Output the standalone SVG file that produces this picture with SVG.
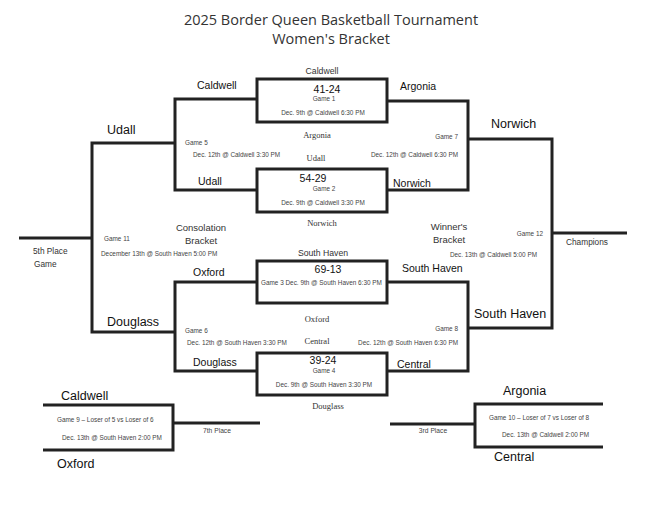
<svg xmlns="http://www.w3.org/2000/svg" width="662" height="512" viewBox="0 0 662 512">
<style>
.ln{fill:none;stroke:#222;stroke-width:3;stroke-linejoin:miter;stroke-linecap:butt}
.box{fill:#fff;stroke:#222;stroke-width:3}
.title{font-family:"Open Sans","Liberation Sans",sans-serif;font-size:14.5px;fill:#333;text-anchor:middle}
.team{font-family:"Liberation Sans",Arial,sans-serif;font-size:10.5px;fill:#111}
.big{font-family:"Liberation Sans",Arial,sans-serif;font-size:12.5px;fill:#111}
.score{font-family:"Liberation Sans",Arial,sans-serif;font-size:10.5px;fill:#111;text-anchor:middle}
.sm{font-family:"Liberation Sans",Arial,sans-serif;font-size:6.4px;fill:#444}
.smc{font-family:"Liberation Sans",Arial,sans-serif;font-size:6.4px;fill:#444;text-anchor:middle}
.host{font-family:"Liberation Sans",Arial,sans-serif;font-size:8.7px;fill:#333;text-anchor:middle}
.ser{font-family:"Liberation Serif","Times New Roman",serif;font-size:8.5px;fill:#333;text-anchor:middle}
.lab{font-family:"Liberation Sans",Arial,sans-serif;font-size:9.5px;fill:#333;text-anchor:middle}
.lab2{font-family:"Liberation Sans",Arial,sans-serif;font-size:8.3px;fill:#333}
.pl{font-family:"Liberation Sans",Arial,sans-serif;font-size:6.7px;fill:#444;text-anchor:middle}
</style>
<rect width="662" height="512" fill="#fff"/>
<g id="title">
<text class="title" x="331" y="25">2025 Border Queen Basketball Tournament</text>
<text class="title" x="331" y="44">Women's Bracket</text>
</g>
<g id="connectors">
<!-- Game 5 -->
<polyline class="ln" points="257,99 175,99 175,190 257,190"/>
<!-- Game 7 -->
<polyline class="ln" points="387,101 468,101 468,190 387,190"/>
<!-- Game 6 -->
<polyline class="ln" points="257,282 175,282 175,371 257,371"/>
<!-- Game 8 -->
<polyline class="ln" points="387,282 468,282 468,371 387,371"/>
<!-- Game 11 -->
<polyline class="ln" points="175,143 92,143 92,332 175,332"/>
<line class="ln" x1="19" y1="238" x2="92" y2="238"/>
<!-- Game 12 -->
<polyline class="ln" points="468,139 552,139 552,328 468,328"/>
<line class="ln" x1="552" y1="233" x2="627" y2="233"/>
<!-- Game 9 -->
<polyline class="ln" points="43,405 173,405 173,450 43,450"/>
<line class="ln" x1="173" y1="423" x2="260" y2="423"/>
<!-- Game 10 -->
<polyline class="ln" points="603,404 475,404 475,447 603,447"/>
<line class="ln" x1="390" y1="424" x2="475" y2="424"/>
</g>
<g id="game1">
<rect class="box" x="257" y="79" width="130" height="43"/>
<text class="host" x="322" y="74">Caldwell</text>
<text class="score" x="327" y="93">41-24</text>
<text class="smc" x="324" y="101">Game 1</text>
<text class="smc" x="323" y="115">Dec. 9th @ Caldwell 6:30 PM</text>
<text class="team" x="197" y="89">Caldwell</text>
<text class="team" x="400" y="90">Argonia</text>
</g>
<g id="game2">
<rect class="box" x="257" y="169" width="130" height="43"/>
<text class="ser" x="316" y="161">Udall</text>
<text class="score" x="313" y="182">54-29</text>
<text class="smc" x="324" y="191">Game 2</text>
<text class="smc" x="323" y="205">Dec. 9th @ Caldwell 3:30 PM</text>
<text class="team" x="198" y="185">Udall</text>
<text class="team" x="393" y="187">Norwich</text>
<text class="ser" x="322" y="226">Norwich</text>
</g>
<g id="game3">
<rect class="box" x="257" y="261" width="130" height="42"/>
<text class="host" x="323" y="256">South Haven</text>
<text class="score" x="328" y="273">69-13</text>
<text class="sm" x="261" y="285">Game 3 Dec. 9th @ South Haven 6:30 PM</text>
<text class="team" x="193" y="276">Oxford</text>
<text class="team" x="402" y="272">South Haven</text>
</g>
<g id="game4">
<rect class="box" x="257" y="353" width="130" height="42"/>
<text class="score" x="323" y="364">39-24</text>
<text class="smc" x="324" y="373">Game 4</text>
<text class="smc" x="324" y="387">Dec. 9th @ South Haven 3:30 PM</text>
<text class="team" x="193" y="366">Douglass</text>
<text class="team" x="397" y="368">Central</text>
<text class="ser" x="328" y="409">Douglass</text>
</g>
<g id="game5">
<text class="ser" x="317" y="138">Argonia</text>
<text class="sm" x="185" y="145">Game 5</text>
<text class="sm" x="193" y="157">Dec. 12th @ Caldwell 3:30 PM</text>
<text class="big" x="107" y="134">Udall</text>
</g>
<g id="game7">
<text class="sm" x="458" y="139" text-anchor="end">Game 7</text>
<text class="sm" x="458" y="157" text-anchor="end">Dec. 12th @ Caldwell 6:30 PM</text>
<text class="big" x="491" y="128">Norwich</text>
</g>
<g id="game6">
<text class="ser" x="317" y="322">Oxford</text>
<text class="ser" x="317" y="344">Central</text>
<text class="sm" x="185" y="333">Game 6</text>
<text class="sm" x="187" y="345">Dec. 12th @ South Haven 3:30 PM</text>
<text class="big" x="107" y="326">Douglass</text>
</g>
<g id="game8">
<text class="sm" x="458" y="331" text-anchor="end">Game 8</text>
<text class="sm" x="458" y="345" text-anchor="end">Dec. 12th @ South Haven 6:30 PM</text>
<text class="big" x="474" y="318">South Haven</text>
</g>
<g id="game11">
<text class="lab" x="201" y="231">Consolation</text>
<text class="lab" x="201" y="244">Bracket</text>
<text class="sm" x="104" y="241">Game 11</text>
<text class="sm" x="101" y="256">December 13th @ South Haven 5:00 PM</text>
<text class="lab2" x="33" y="254">5th Place</text>
<text class="lab2" x="34" y="267">Game</text>
</g>
<g id="game12">
<text class="lab" x="449" y="230">Winner's</text>
<text class="lab" x="449" y="243">Bracket</text>
<text class="sm" x="543" y="236" text-anchor="end">Game 12</text>
<text class="sm" x="537" y="257" text-anchor="end">Dec. 13th @ Caldwell 5:00 PM</text>
<text class="lab2" x="566" y="245">Champions</text>
</g>
<g id="game9">
<text class="big" x="61" y="400">Caldwell</text>
<text class="sm" x="57" y="422">Game 9 – Loser of 5 vs Loser of 6</text>
<text class="sm" x="62" y="440">Dec. 13th @ South Haven 2:00 PM</text>
<text class="pl" x="217" y="433">7th Place</text>
<text class="big" x="57" y="468">Oxford</text>
</g>
<g id="game10">
<text class="big" x="503" y="395">Argonia</text>
<text class="sm" x="489" y="420">Game 10 – Loser of 7 vs Loser of 8</text>
<text class="sm" x="502" y="437">Dec. 13th @ Caldwell 2:00 PM</text>
<text class="pl" x="433" y="433">3rd Place</text>
<text class="big" x="494" y="461">Central</text>
</g>
</svg>
